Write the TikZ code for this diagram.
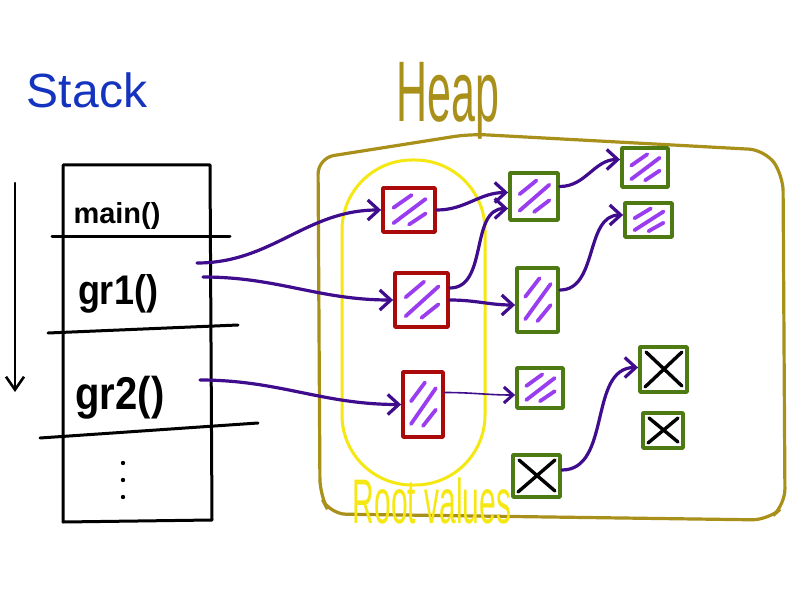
\documentclass[tikz,border=0pt]{standalone}
\usepackage{fontspec}
\usepackage{graphicx}
\setmainfont{Liberation Sans}
\usetikzlibrary{arrows.meta,calc}
\definecolor{stackblue}{HTML}{1434C0}
\definecolor{heapolive}{HTML}{A8901A}
\definecolor{rootyellow}{HTML}{F5E812}
\definecolor{rootred}{HTML}{AA0A0A}
\definecolor{objgreen}{HTML}{4E7A14}
\definecolor{hatchpurple}{HTML}{9A3CF0}
\definecolor{refpurple}{HTML}{3E0C8C}
\tikzset{
  objbox/.style={line width=3.8pt, inner sep=0pt, line join=round},
  rbox/.style={objbox, draw=rootred, hatched},
  gbox/.style={objbox, draw=objgreen, hatched},
  xbox/.style={objbox, draw=objgreen, crossed},
  hatchline/.style={draw=hatchpurple, line width=3.8pt, line cap=round},
  hatched/.style={path picture={
    \draw[hatchline] let \p1=(path picture bounding box.south west), \p2=(path picture bounding box.north east) in
      ({\x1+0.2*(\x2-\x1)},{\y1+0.55*(\y2-\y1)}) -- ({\x1+0.55*(\x2-\x1)},{\y1+0.84*(\y2-\y1)})
      ({\x1+0.2*(\x2-\x1)},{\y1+0.2*(\y2-\y1)}) -- ({\x1+0.82*(\x2-\x1)},{\y1+0.75*(\y2-\y1)})
      ({\x1+0.5*(\x2-\x1)},{\y1+0.17*(\y2-\y1)}) -- ({\x1+0.82*(\x2-\x1)},{\y1+0.42*(\y2-\y1)});
  }},
  crossed/.style={path picture={
    \draw[black, line width=3.4pt, line cap=round]
      ($(path picture bounding box.south west)+(5pt,5pt)$) -- ($(path picture bounding box.north east)+(-5pt,-5pt)$)
      ($(path picture bounding box.north west)+(6pt,-5pt)$) -- ($(path picture bounding box.south east)+(-5pt,6pt)$);
  }},
  ref/.style={draw=refpurple, line width=3.2pt, line cap=round, line join=round, -{Straight Barb[length=11pt,width=20pt]}},
  thinref/.style={ref, line width=1.6pt, -{Straight Barb[length=9pt,width=16pt,line width=3pt]}},
  stackline/.style={draw=black, line width=3pt, line cap=round, line join=round},
  label/.style={inner sep=0pt},
}
\begin{document}
\begin{tikzpicture}[x=1pt,y=-1pt]
\useasboundingbox (0,0) rectangle (806,607);
\fill[white] (0,0) rectangle (806,607);

% ---- Stack ----
\node[label, text=stackblue] (stacktitle) at (87,90) {\fontsize{48}{48}\selectfont Stack};
\draw[stackline] (63,165) -- (210,165) -- (212,520) -- (63,522) -- cycle;
\draw[stackline] (52,236) -- (230,236);
\draw[stackline] (48,333) -- (238,325);
\draw[stackline] (40,438) -- (258,423);
\node[label] (tmain) at (117,216) {\bfseries\fontsize{29}{29}\selectfont main()};
\node[label] (tgr1) at (118,294) {\scalebox{1}[1.15]{\bfseries\fontsize{36}{36}\selectfont gr1()}};
\node[label] (tgr2) at (120,398) {\scalebox{1}[1.15]{\bfseries\fontsize{40}{40}\selectfont gr2()}};
\fill (123,463) circle (2.2) (123,480) circle (2.2) (123,497) circle (2.2);
\coordinate (growtop) at (15,183);
\coordinate (growbot) at (15,392);
\draw[stackline, line width=2.6pt, -{Straight Barb[length=13pt,width=18pt]}] (growtop) -- (growbot);

% ---- Heap ----
\node[label, text=heapolive] (heaptitle) at (448,101) {\scalebox{1}[2]{\fontsize{43}{43}\selectfont Heap}};
\draw[heapolive, line width=3.2pt, rounded corners=16pt]
  (318,158) -- (470,134) -- (765,150) -- (783,175) -- (785,505) -- (768,520) -- (330,514) -- (320,495) -- cycle;

% root set
\node[draw=rootyellow, line width=3pt, rounded corners=70pt, minimum width=143pt, minimum height=325pt] (roots) at (413.5,322.5) {};
\node[label, text=rootyellow] (rootlabel) at (432,501) {\scalebox{1}[2.1]{\fontsize{30}{30}\selectfont Root values}};

% objects
\node[rbox, minimum width=52pt, minimum height=44pt] (R1) at (409,210) {};
\node[rbox, minimum width=53pt, minimum height=54pt] (R2) at (421.5,300) {};
\node[rbox, minimum width=40pt, minimum height=65pt] (R3) at (423,404.5) {};
\node[gbox, minimum width=48pt, minimum height=47pt] (G1) at (534,196.5) {};
\node[gbox, minimum width=41pt, minimum height=64pt] (G2) at (537.5,300) {};
\node[gbox, minimum width=46pt, minimum height=40pt] (G3) at (540,388) {};
\node[xbox, minimum width=47pt, minimum height=42pt] (G4) at (536.5,476) {};
\node[gbox, minimum width=46pt, minimum height=39pt] (G5) at (645,167.5) {};
\node[gbox, minimum width=47pt, minimum height=34pt] (G6) at (648.5,220) {};
\node[xbox, minimum width=47pt, minimum height=45pt] (G7) at (663.5,369.5) {};
\node[xbox, minimum width=40pt, minimum height=35pt] (G8) at (663,430.5) {};

% references
\coordinate (s1) at (197,263);
\coordinate (s2) at (203,277);
\coordinate (s3) at (200,380);
\draw[ref] (s1) to[out=0,in=180] (R1.west);
\draw[ref] (s2) to[out=0,in=180] (R2.west);
\draw[ref] (s3) to[out=0,in=180] (R3.west);
\draw[ref] (R1.east) to[out=0,in=180] ([yshift=4pt]G1.west);
\draw[ref] ([yshift=12pt]R2.east) to[out=0,in=180] ([yshift=-12pt]G1.west);
\draw[ref] (R2.east) to[out=0,in=180] ([yshift=-5pt]G2.west);
\draw[thinref] ([yshift=12pt]R3.east) to[out=0,in=180] ([yshift=-7pt]G3.west);
\draw[ref] ([yshift=10pt]G1.east) to[out=0,in=180] ([yshift=8pt]G5.west);
\draw[ref] ([yshift=10pt]G2.east) to[out=0,in=180] ([yshift=5pt]G6.west);
\draw[ref] ([yshift=6pt]G4.east) to[out=0,in=180] ([yshift=2pt]G7.west);
\end{tikzpicture}
\end{document}
